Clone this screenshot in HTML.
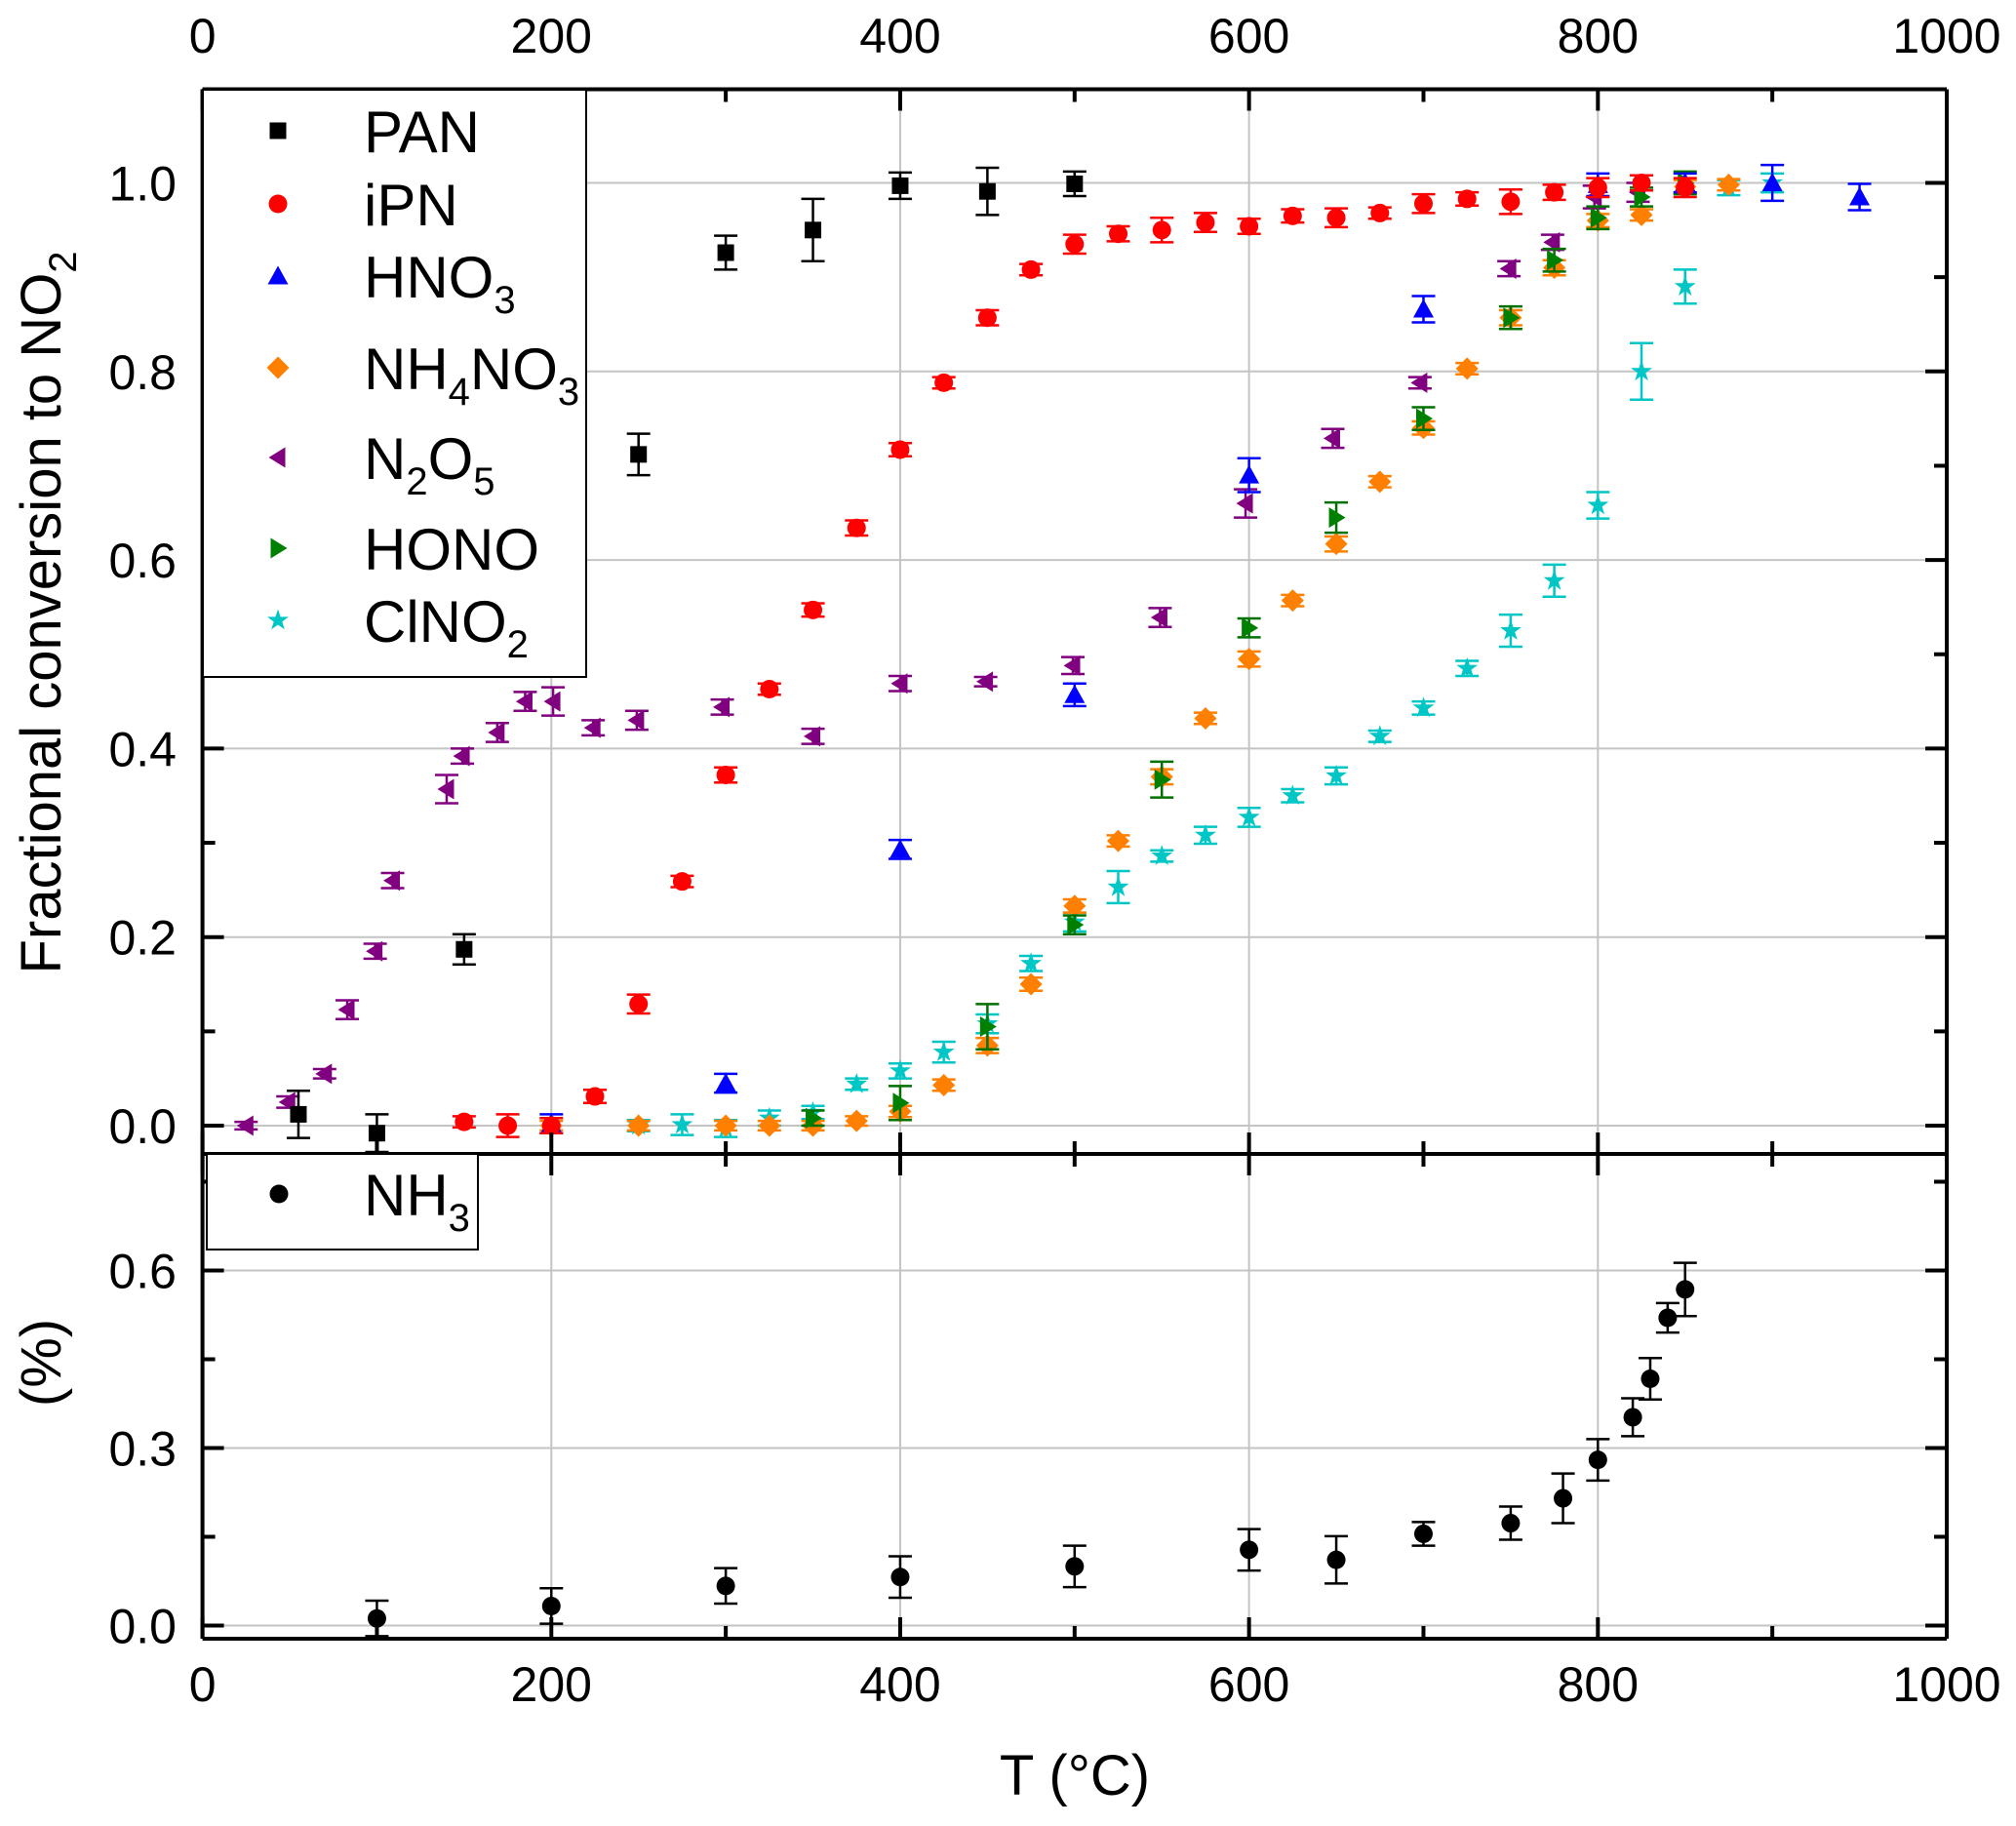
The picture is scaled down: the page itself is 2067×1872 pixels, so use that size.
<!DOCTYPE html>
<html><head><meta charset="utf-8"><style>
html,body{margin:0;padding:0;background:#fff}
svg text{font-family:"Liberation Sans",Arial,sans-serif;fill:#000}
</style></head><body>
<svg id="chart" width="2067" height="1867" viewBox="0 0 2067 1867" xmlns="http://www.w3.org/2000/svg">
<g id="grid"></g>
<g id="marks"></g>
<g id="axes"></g>
<g id="legend-top">
 <rect x="208" y="92" width="393" height="602" fill="#fff" stroke="#000" stroke-width="2"/>
 <text x="373" y="156" font-size="60">PAN</text>
 <text x="373" y="231" font-size="60">iPN</text>
 <text x="373" y="305" font-size="60">HNO<tspan font-size="40" dy="16">3</tspan></text>
 <text x="373" y="399" font-size="60">NH<tspan font-size="40" dy="16">4</tspan><tspan dy="-16">NO</tspan><tspan font-size="40" dy="16">3</tspan></text>
 <text x="373" y="491" font-size="60">N<tspan font-size="40" dy="16">2</tspan><tspan dy="-16">O</tspan><tspan font-size="40" dy="16">5</tspan></text>
 <text x="373" y="584" font-size="60">HONO</text>
 <text x="373" y="658" font-size="60">ClNO<tspan font-size="40" dy="16">2</tspan></text>
</g>
<g id="legend-bot">
 <rect x="212" y="1183" width="278" height="98" fill="#fff" stroke="#000" stroke-width="2"/>
 <text x="373" y="1246" font-size="60">NH<tspan font-size="40" dy="16">3</tspan></text>
</g>
<text transform="translate(62,628) rotate(-90)" text-anchor="middle" font-size="58">Fractional conversion to NO<tspan font-size="40" dy="16">2</tspan></text>
<text transform="translate(62,1397) rotate(-90)" text-anchor="middle" font-size="58">(%)</text>
<text x="1102" y="1840" text-anchor="middle" font-size="58">T (°C)</text>
</svg>
<script>
// ---- data ----
const panT=[55,100,150,250,300,350,400,450,500];
const panV=[0.012,-0.008,0.187,0.712,0.926,0.950,0.997,0.991,0.999];
const panE=[0.025,0.02,0.016,0.022,0.018,0.033,0.014,0.025,0.013];
const ipnT=[150,175,200,225,250,275,300,325,350,375,400,425,450,475,500,525,550,575,600,625,650,675,700,725,750,775,800,825,850];
const ipnV=[0.004,0.0,0.0,0.031,0.129,0.259,0.372,0.463,0.547,0.634,0.717,0.788,0.857,0.908,0.935,0.946,0.950,0.958,0.954,0.965,0.963,0.968,0.978,0.983,0.980,0.990,0.995,1.0,0.995];
const ipnE=[0.006,0.012,0.008,0.007,0.01,0.006,0.008,0.006,0.007,0.008,0.007,0.006,0.008,0.006,0.01,0.008,0.013,0.01,0.008,0.007,0.01,0.006,0.01,0.007,0.013,0.008,0.01,0.008,0.01];
const hno3T=[200,300,400,500,600,700,800,850,900,950];
const hno3V=[0.002,0.045,0.293,0.457,0.690,0.866,0.998,1.0,1.0,0.985];
const hno3E=[0.01,0.01,0.01,0.012,0.018,0.014,0.012,0.01,0.019,0.014];
const nh4T=[200,250,300,325,350,375,400,425,450,475,500,525,550,575,600,625,650,675,700,725,750,775,800,825,850,875];
const nh4V=[0.0,0.0,0.0,0.0,0.0,0.005,0.015,0.043,0.085,0.150,0.233,0.302,0.370,0.432,0.495,0.557,0.617,0.683,0.740,0.803,0.857,0.910,0.960,0.966,0.996,0.998];
const nh4E=[0.005,0.005,0.005,0.005,0.005,0.005,0.006,0.006,0.008,0.007,0.007,0.006,0.008,0.006,0.008,0.006,0.008,0.006,0.007,0.006,0.008,0.008,0.007,0.006,0.007,0.006];
const n2o5T=[25,49,70,83,99,109,140,149,169,185,201,224,249,298,350,400,449,499,549,598,648,698,749,774,798,823];
const n2o5V=[0.0,0.025,0.055,0.123,0.185,0.260,0.357,0.392,0.417,0.450,0.450,0.422,0.430,0.444,0.413,0.469,0.471,0.488,0.539,0.660,0.729,0.788,0.909,0.937,0.985,0.990];
const n2o5E=[0.004,0.006,0.005,0.01,0.008,0.008,0.015,0.008,0.01,0.01,0.015,0.008,0.01,0.008,0.008,0.008,0.005,0.009,0.01,0.015,0.01,0.006,0.008,0.008,0.012,0.01];
const honoT=[350,400,450,500,550,600,650,700,750,775,800,825,850];
const honoV=[0.008,0.024,0.105,0.213,0.367,0.528,0.645,0.750,0.857,0.918,0.963,0.985,1.0];
const honoE=[0.008,0.018,0.024,0.01,0.019,0.01,0.016,0.012,0.012,0.012,0.012,0.01,0.012];
const clT=[250,275,300,325,350,375,400,425,450,475,500,525,550,575,600,625,650,675,700,725,750,775,800,825,850,875,900];
const clV=[0.0,0.001,-0.003,0.008,0.014,0.044,0.058,0.078,0.108,0.172,0.216,0.253,0.286,0.308,0.327,0.350,0.371,0.413,0.443,0.485,0.525,0.578,0.658,0.800,0.890,0.995,1.0];
const clE=[0.006,0.011,0.009,0.008,0.007,0.006,0.008,0.011,0.01,0.008,0.01,0.017,0.006,0.009,0.01,0.007,0.009,0.006,0.007,0.008,0.017,0.017,0.014,0.03,0.018,0.008,0.01];
const nh3T=[100,200,300,400,500,600,650,700,750,780,800,820,830,840,850];
const nh3V=[0.012,0.033,0.067,0.082,0.100,0.128,0.111,0.155,0.173,0.215,0.280,0.352,0.417,0.520,0.568];
const nh3E=[0.03,0.03,0.03,0.035,0.035,0.035,0.04,0.02,0.028,0.042,0.035,0.032,0.035,0.025,0.045];
const xTicks=[0,200,400,600,800,1000];
const yTicksTop=[0.0,0.2,0.4,0.6,0.8,1.0];
const yTicksBot=[0.0,0.3,0.6];

// ---- geometry ----
const L=207.6,R=1996,T=91.5,MID=1183,B=1680;
const X=v=>L+(v/1000)*(R-L);
const Y1=v=>1154-v*966.5;
const Y2=v=>1666.5-v*606.7;
const NS="http://www.w3.org/2000/svg";
function mk(tag,attrs,parent){const e=document.createElementNS(NS,tag);for(const k in attrs)e.setAttribute(k,attrs[k]);parent.appendChild(e);return e;}
const grid=document.getElementById('grid'),marks=document.getElementById('marks'),axes=document.getElementById('axes');

// grid
xTicks.forEach(t=>{if(t>0&&t<1000){
 let g=mk('line',{x1:X(t),x2:X(t),y1:T,y2:B,stroke:'#c4c4c4','stroke-width':2},grid);
 
 }});
yTicksTop.forEach(t=>{let g=mk('line',{x1:L,x2:R,y1:Y1(t),y2:Y1(t),stroke:'#c4c4c4','stroke-width':2},grid);
 
 });
yTicksBot.forEach(t=>{let g=mk('line',{x1:L,x2:R,y1:Y2(t),y2:Y2(t),stroke:'#c4c4c4','stroke-width':2},grid);
 
 });

// markers
function marker(shape,cx,cy,color,parent){
 const s=9.5;let e;
 if(shape==='square')e=mk('rect',{x:cx-s+1,y:cy-s+1,width:2*s-2,height:2*s-2,fill:color},parent);
 else if(shape==='circle')e=mk('circle',{cx:cx,cy:cy,r:s,fill:color},parent);
 else if(shape==='up')e=mk('polygon',{points:`${cx},${cy-s-1} ${cx-s-1},${cy+s-1} ${cx+s+1},${cy+s-1}`,fill:color},parent);
 else if(shape==='diamond')e=mk('polygon',{points:`${cx},${cy-s-2} ${cx+s+2},${cy} ${cx},${cy+s+2} ${cx-s-2},${cy}`,fill:color},parent);
 else if(shape==='left')e=mk('polygon',{points:`${cx-s},${cy} ${cx+s-2},${cy-s-1} ${cx+s-2},${cy+s+1}`,fill:color},parent);
 else if(shape==='right')e=mk('polygon',{points:`${cx+s},${cy} ${cx-s+2},${cy-s-1} ${cx-s+2},${cy+s+1}`,fill:color},parent);
 else if(shape==='star'){let p=[];for(let i=0;i<10;i++){const r=i%2?4.5:11.5,a=-Math.PI/2+i*Math.PI/5;p.push((cx+r*Math.cos(a)).toFixed(1)+','+(cy+r*Math.sin(a)).toFixed(1));}
  e=mk('polygon',{points:p.join(' '),fill:color},parent);}
 return e;
}
function series(name,xs,vs,es,Yf,shape,color,ecolor){
 const g=mk('g',{},marks);
 
 
 xs.forEach((t,i)=>{
  const cx=X(t),cy=Yf(vs[i]),y0=Yf(vs[i]+es[i]),y1=Yf(vs[i]-es[i]);
  const eb=mk('path',{d:`M${cx},${y0}V${y1}M${cx-12},${y0}H${cx+12}M${cx-12},${y1}H${cx+12}`,stroke:ecolor,'stroke-width':2.5,fill:'none'},g);
  
  
  const m=marker(shape,cx,cy,color,g);
  
  
 });
}
series('n2o5',n2o5T,n2o5V,n2o5E,Y1,'left','#800080','#800080');
series('clno2',clT,clV,clE,Y1,'star','#00c6c6','#00c6c6');
series('nh4no3',nh4T,nh4V,nh4E,Y1,'diamond','#ff8000','#ff8000');
series('hono',honoT,honoV,honoE,Y1,'right','#008000','#007000');
series('hno3',hno3T,hno3V,hno3E,Y1,'up','#0000ff','#0000ff');
series('ipn',ipnT,ipnV,ipnE,Y1,'circle','#ff0000','#ff0000');
series('pan',panT,panV,panE,Y1,'square','#000','#000');
series('nh3',nh3T,nh3V,nh3E,Y2,'circle','#000','#000');

// legend markers
[['pan','square','#000',134],['ipn','circle','#ff0000',209],['hno3','up','#0000ff',283],['nh4no3','diamond','#ff8000',377],['n2o5','left','#800080',469],['hono','right','#008000',562],['clno2','star','#00c6c6',636]].forEach(a=>{
 const m=marker(a[1],285,a[3],a[2],document.getElementById('legend-top'));
 
 
});
{const m=marker('circle',286,1224,'#000',document.getElementById('legend-bot'));
 
 }

// axes frame
[[L,T,R,T],[L,B,R,B],[L,T,L,B],[R,T,R,B],[L,MID,R,MID]].forEach(s=>{
 const l=mk('line',{x1:s[0],y1:s[1],x2:s[2],y2:s[3],stroke:'#000','stroke-width':4},axes);
 
 
});
// x ticks
for(let t=0;t<=1000;t+=100){
 const major=t%200===0,len=major?22:13,x=X(t);
 const d=`M${x},${T}v${len}M${x},${B}v${-len}M${x},${MID}v${-len}M${x},${MID}v${len}`;
 const tk=mk('path',{d:d,stroke:'#000','stroke-width':4},axes);
 
 
}
xTicks.forEach(t=>{
 const a=mk('text',{x:X(t),y:54,'text-anchor':'middle','font-size':50},axes);a.textContent=t;
 
 
 const b=mk('text',{x:X(t),y:1744,'text-anchor':'middle','font-size':50},axes);b.textContent=t;
 
 
});
// y ticks top
for(let i=0;i<=11;i++){const v=i*0.1,y=Y1(v);if(y<T)continue;const len=i%2===0?22:13;
 const tk=mk('path',{d:`M${L},${y}h${len}M${R},${y}h${-len}`,stroke:'#000','stroke-width':4},axes);
 
 }
yTicksTop.forEach(t=>{const a=mk('text',{x:181,y:Y1(t)+18,'text-anchor':'end','font-size':50},axes);a.textContent=t.toFixed(1);
 
 });
// y ticks bottom
for(let i=0;i<=5;i++){const v=i*0.15,y=Y2(v);const len=i%2===0?22:13;
 const tk=mk('path',{d:`M${L},${y}h${len}M${R},${y}h${-len}`,stroke:'#000','stroke-width':4},axes);
 
 }
yTicksBot.forEach(t=>{const a=mk('text',{x:181,y:Y2(t)+18,'text-anchor':'end','font-size':50},axes);a.textContent=t.toFixed(1);
 
 });
</script>
</body></html>
